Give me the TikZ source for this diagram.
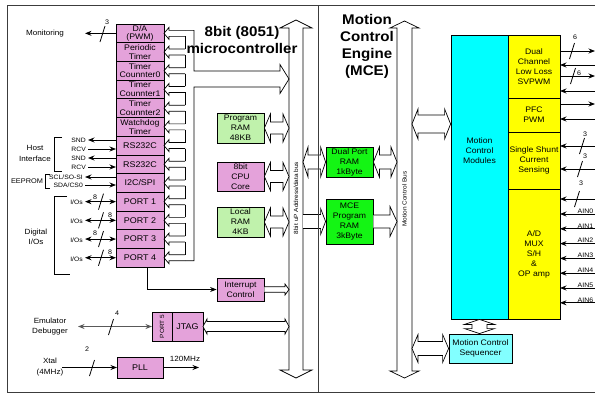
\documentclass[tikz,border=0pt]{standalone}
\usepackage{fontspec}
\setmainfont{Liberation Sans}[FakeStretch=1.08]
\usetikzlibrary{positioning, calc, arrows.meta}

\definecolor{periph}{RGB}{228,162,218}
\definecolor{ramgrn}{RGB}{192,242,172}
\definecolor{mcegrn}{RGB}{20,245,20}
\definecolor{mcecyan}{RGB}{0,255,255}
\definecolor{seqcyan}{RGB}{130,255,255}
\definecolor{pwryel}{RGB}{255,255,0}
\definecolor{framegray}{RGB}{60,60,60}

% hollow double arrow, left point #1 to right point #2
\newcommand\hdbl[5]{%
  \filldraw[hol] let \p1=#1, \p2=#2 in
    (\x1,\y1) -- (\x1+#5,\y1+#4) -- (\x1+#5,\y1+#3) -- (\x2-#5,\y1+#3)
    -- (\x2-#5,\y1+#4) -- (\x2,\y1) -- (\x2-#5,\y1-#4) -- (\x2-#5,\y1-#3)
    -- (\x1+#5,\y1-#3) -- (\x1+#5,\y1-#4) -- cycle;}
% hollow single arrow pointing right
\newcommand\hright[5]{%
  \filldraw[hol] let \p1=#1, \p2=#2 in
    (\x1,\y1+#3) -- (\x2-#5,\y1+#3) -- (\x2-#5,\y1+#4) -- (\x2,\y1)
    -- (\x2-#5,\y1-#4) -- (\x2-#5,\y1-#3) -- (\x1,\y1-#3);}
% hollow double arrow, top point #1 to bottom point #2
\newcommand\vdbl[5]{%
  \filldraw[hol] let \p1=#1, \p2=#2 in
    (\x1,\y1) -- (\x1+#4,\y1-#5) -- (\x1+#3,\y1-#5) -- (\x1+#3,\y2+#5)
    -- (\x1+#4,\y2+#5) -- (\x1,\y2) -- (\x1-#4,\y2+#5) -- (\x1-#3,\y2+#5)
    -- (\x1-#3,\y1-#5) -- (\x1-#4,\y1-#5) -- cycle;}
% bus width mark
\newcommand\buswidth[2]{\draw[line width=0.8pt] (#1-2.5,#2+8) -- (#1+2.5,#2-8);}

\begin{document}
\begin{tikzpicture}[x=1pt, y=-1pt,
  >={Stealth[length=6.5pt,width=5pt]},
  outline/.style={draw=framegray, line width=1pt},
  cell/.style={draw, fill=periph, line width=0.8pt, minimum width=48pt,
               minimum height=18.7pt, inner sep=0.5pt, outer sep=0pt,
               align=center, font=\fontsize{8.1}{8.7}\selectfont},
  bigcell/.style={cell, font=\fontsize{8.3}{9}\selectfont},
  mem/.style={draw, line width=0.8pt, minimum width=47pt, inner sep=0pt,
              align=center, font=\fontsize{8}{10}\selectfont},
  ybox/.style={draw, fill=pwryel, line width=0.8pt, minimum width=52pt,
               inner sep=0pt, outer sep=0pt, align=center,
               font=\fontsize{8}{10}\selectfont},
  ttl/.style={font=\fontsize{14}{17}\selectfont\bfseries, align=center},
  lbl/.style={font=\fontsize{7.5}{10.5}\selectfont, align=center, inner sep=0pt},
  sml/.style={font=\fontsize{6.3}{7}\selectfont, inner sep=2pt},
  num/.style={font=\fontsize{6.6}{7}\selectfont, inner sep=0pt},
  ain/.style={font=\fontsize{6.5}{7}\selectfont, inner sep=0.5pt},
  buslbl/.style={rotate=90, font=\fontsize{6}{7}\selectfont},
  sig/.style={->, line width=0.8pt},
  emu/.style={<->, line width=1.3pt, draw=black!65},
  brk/.style={line width=0.8pt},
  bus/.style={line width=0.7pt},
  hol/.style={draw, fill=white, line width=0.7pt}
]
\useasboundingbox (0,0) rectangle (595,394);
\clip (0,0) rectangle (595,394);

% frame
\draw[outline] (7,5) rectangle (600,392);

% buses
\coordinate (b1n) at (296,20);
\coordinate (b1s) at (296,378);
\coordinate (b2n) at (404.5,21);
\coordinate (b2s) at (404.5,378);
\coordinate (b1w) at (289,0);
\coordinate (b1e) at (303,0);
\coordinate (b2w) at (397,0);
\coordinate (b2e) at (412,0);
\vdbl{(b1n)}{(b1s)}{7pt}{16pt}{8pt}
\vdbl{(b2n)}{(b2s)}{7.5pt}{14.5pt}{7pt}
\node[buslbl] (b1lbl) at (296,198) {8bit uP Address/data bus};
\node[buslbl] (b2lbl) at (404.5,199) {Motion Control Bus};

% peripherals
\node[cell] (c0) at (140,33.35) {D/A\\(PWM)};
\node[cell, below=0pt of c0] (c1) {Periodic\\Timer};
\node[cell, below=0pt of c1] (c2) {Timer\\Counnter0};
\node[cell, below=0pt of c2] (c3) {Timer\\Counnter1};
\node[cell, below=0pt of c3] (c4) {Timer\\Counnter2};
\node[cell, below=0pt of c4] (c5) {Watchdog\\Timer};
\node[bigcell, below=0pt of c5] (c6) {RS232C};
\node[bigcell, below=0pt of c6] (c7) {RS232C};
\node[bigcell, below=0pt of c7] (c8) {I2C/SPI};
\node[bigcell, below=0pt of c8] (c9) {PORT 1};
\node[bigcell, below=0pt of c9] (c10) {PORT 2};
\node[bigcell, below=0pt of c10] (c11) {PORT 3};
\node[bigcell, below=0pt of c11] (c12) {PORT 4};

% internal bus of the peripherals
\foreach \i in {0,...,12}
  \draw[bus] ($(c\i.east)+(21,-3)$) -- ++(-16,0) -- ++(0,-3) -- ++(-5,6)
    -- ++(5,6) -- ++(0,-3) -- ++(16,0);
\foreach \i [count=\j] in {0,...,11}
  \draw[bus] ($(c\i.east)+(21,3)$) -- ($(c\j.east)+(21,-3)$);
\draw[bus] ($(c0.east)+(21,-3)$) -- ($(c0.east)+(30,-3)$) -- (194,71)
  -- (280,71) -- (280,64.5) -- (289,79) -- (280,93.5) -- (280,87) -- (194,87)
  -- ($(c12.east)+(30,3)$) -- ($(c12.east)+(21,3)$);

% titles
\node[ttl] (uctitle) at (242,40) {8bit (8051)\\microcontroller};
\node[ttl] (mcetitle) at (367,46) {Motion\\Control\\Engine\\(MCE)};

% CPU side blocks
\node[mem, fill=ramgrn, minimum height=30pt] (pram) at (240.5,128) {Program\\RAM\\48KB};
\node[mem, fill=periph, minimum height=29pt] (cpu) at (240.5,176.5) {8bit\\CPU\\Core};
\node[mem, fill=ramgrn, minimum height=30pt] (lram) at (240.5,222) {Local\\RAM\\4KB};
\node[mem, fill=periph, minimum height=23pt] (intr) at (240.5,289.5) {Interrupt\\Control};
\hdbl{(pram.east)}{(pram.east -| b1w)}{6pt}{14pt}{6pt}
\hdbl{(cpu.east)}{(cpu.east -| b1w)}{6pt}{14pt}{6pt}
\hdbl{(lram.east)}{(lram.east -| b1w)}{6pt}{14pt}{6pt}
\hright{(intr.east)}{(intr.east -| b1w)}{2.7pt}{5.5pt}{4pt}

% MCE memories
\node[mem, fill=mcegrn, minimum height=30pt] (dpram) at (349.5,162) {Dual Port\\RAM\\1kByte};
\node[mem, fill=mcegrn, minimum height=45pt] (mram) at (349.5,221.5) {MCE\\Program\\RAM\\3kByte};
\hdbl{(dpram.west -| b1e)}{(dpram.west)}{7pt}{15pt}{5pt}
\hdbl{(dpram.east)}{(dpram.east -| b2w)}{7pt}{15pt}{6pt}
\hright{(mram.west -| b1e)}{(mram.west)}{7pt}{13pt}{5pt}
\hright{(mram.east)}{(mram.east -| b2w)}{6.5pt}{15pt}{7pt}

% divider between the two halves
\draw[outline] (318,5) -- (318,392);

% motion control modules
\node[draw, fill=mcecyan, line width=0.8pt, minimum width=57pt,
      minimum height=284pt, inner sep=0pt] (mcm) at (479.5,177) {};
\node[mem, draw=none, fill=none] (mcmtxt) at (479.5,151) {Motion\\Control\\Modules};
\node[ybox, minimum height=63pt] (svpwm) at (534,66.5) {Dual\\Channel\\Low Loss\\SVPWM};
\node[ybox, minimum height=34pt, below=0pt of svpwm] (pfc) {PFC\\PWM};
\node[ybox, minimum height=57pt, below=0pt of pfc] (shunt) {Single Shunt\\Current\\Sensing};
\node[ybox, minimum height=130pt, below=0pt of shunt] (adc) {A/D\\MUX\\S/H\\\&\\OP amp};
\node[mem, fill=seqcyan, minimum width=63pt, minimum height=29pt] (seq)
  at (480.5,348.5) {Motion Control\\Sequencer};
\coordinate (mcmbus) at (412,124);
\hdbl{(mcmbus)}{(mcmbus -| mcm.west)}{9pt}{15pt}{6pt}
\hdbl{(seq.west -| b2e)}{(seq.west)}{7pt}{14pt}{6pt}
\vdbl{(mcm.south)}{(mcm.south |- seq.north)}{7.5pt}{15pt}{5pt}

% motor side signals
\draw[sig] ($(svpwm.north east)+(0,16)$) -- ++(35,0) coordinate (pwm1);
\draw[sig] ($(svpwm.north east)+(35,30)$) coordinate (fb1) -- ++(-35,0);
\draw[sig] ($(svpwm.north east)+(0,41)$) -- ++(35,0) coordinate (pwm2);
\draw[sig] ($(svpwm.north east)+(35,56)$) coordinate (fb2) -- ++(-35,0);
\draw[sig] ($(pfc.north east)+(0,6)$) -- ++(35,0) coordinate (pfcout);
\draw[sig] ($(pfc.north east)+(35,21)$) coordinate (pfcin) -- ++(-35,0);
\draw[sig] ($(shunt.north east)+(35,14)$) coordinate (sh1) -- ++(-35,0);
\draw[sig] ($(shunt.north east)+(35,37)$) coordinate (sh2) -- ++(-35,0);
\draw[sig] ($(adc.north east)+(35,10)$) coordinate (adin) -- ++(-35,0);
\buswidth{572}{51}
\buswidth{573}{76}
\buswidth{582}{146}
\buswidth{580}{169}
\buswidth{577}{199}
\node[num] (n6a) at (575,37) {6};
\node[num] (n6b) at (579,73) {6};
\node[num] (n3a) at (585,134) {3};
\node[num] (n3b) at (585,156) {3};
\node[num] (n3c) at (581,183) {3};
\foreach \k in {0,...,6} {
  \draw[sig] ($(adc.north east)+(35,25+14.8*\k)$) coordinate (ain\k)
    -- ($(adc.north east)+(0,25+14.8*\k)$);
  \node[ain, anchor=south west] (ainl\k) at ($(adc.north east)+(17,25+14.8*\k)$) {AIN\k};
}

% monitoring
\node[lbl] (mon) at (45,34) {Monitoring};
\draw[sig] (c0.west) -- ++(-31,0) coordinate (monend);
\buswidth{102.5}{34}
\node[num] (n3d) at (107,22) {3};

% host interface
\node[lbl] (host) at (35,153.5) {Host\\Interface};
\draw[brk] (62,137) -- (54,137) -- (54,171) -- (62,171);
\node[sml, anchor=east] (snd1) at (88,140) {SND};
\node[sml, anchor=east] (rcv1) at (88,149) {RCV};
\node[sml, anchor=east] (snd2) at (88,158) {SND};
\node[sml, anchor=east] (rcv2) at (88,167) {RCV};
\draw[sig] (snd1.east -| c6.west) -- (snd1.east);
\draw[sig] (rcv1.east) -- (rcv1.east -| c6.west);
\draw[sig] (snd2.east -| c7.west) -- (snd2.east);
\draw[sig] (rcv2.east) -- (rcv2.east -| c7.west);

% eeprom
\node[lbl, font=\fontsize{6.8}{8}\selectfont] (eep) at (27,181) {EEPROM};
\draw[brk] (50,174) -- (45,174) -- (45,188) -- (50,188);
\node[sml, anchor=east] (scl) at (85,177) {SCL/SO-SI};
\node[sml, anchor=east] (sda) at (85,185) {SDA/CS0};
\draw[sig] (scl.east -| c8.west) -- (scl.east);
\draw[sig] (sda.east) -- (sda.east -| c8.west);

% digital I/Os
\node[lbl] (dio) at (36,237) {Digital\\I/Os};
\draw[brk] (67,196) -- (54,196) -- (54,274) -- (70,274);
\foreach \i/\p in {1/9,2/10,3/11,4/12} {
  \node[sml, anchor=east] (io\i) at ($(c\p.west)+(-31,1)$) {I/Os};
  \draw[sig, <->] (c\p.west -| io\i.east) -- (c\p.west);
  \draw[line width=0.8pt] ($(c\p.west)+(-17.5,8)$) -- ($(c\p.west)+(-12.5,-8)$);
}
\node[num] (n8a) at (95,197) {8};
\node[num] (n8b) at (110,215) {8};
\node[num] (n8c) at (95,233) {8};
\node[num] (n8d) at (110,252) {8};

% interrupt request
\draw[sig] ([xshift=7pt]c12.south) |- (intr.west);

% emulator
\node[cell, minimum width=20pt, minimum height=29pt] (p5) at (162,326.5)
  {\rotatebox{90}{\fontsize{6}{6}\selectfont PORT 5}};
\node[bigcell, minimum width=31pt, minimum height=29pt, right=0pt of p5] (jtag) {JTAG};
\node[lbl] (emutxt) at (50,326.5) {Emulator\\Debugger};
\draw[emu] (p5.west) -- ++(-74,0) coordinate (emuend);
\buswidth{111}{327}
\node[num] (n4) at (117,313) {4};
\hdbl{(jtag.east)}{(jtag.east -| b1w)}{5pt}{7.5pt}{4pt}

% clock
\node[bigcell, minimum width=46pt, minimum height=21pt] (pll) at (140,367.5) {PLL};
\node[lbl] (xtal) at (50,367) {Xtal\\(4MHz)};
\draw[sig] ($(pll.west)+(-55,0)$) coordinate (xin) -- (pll.west);
\buswidth{92}{368}
\node[num] (n2) at (87,349) {2};
\draw[sig] (pll.east) -- ++(36,0) coordinate (clkout);
\node[lbl] (clk) at (185,359) {120MHz};
\end{tikzpicture}
\end{document}
